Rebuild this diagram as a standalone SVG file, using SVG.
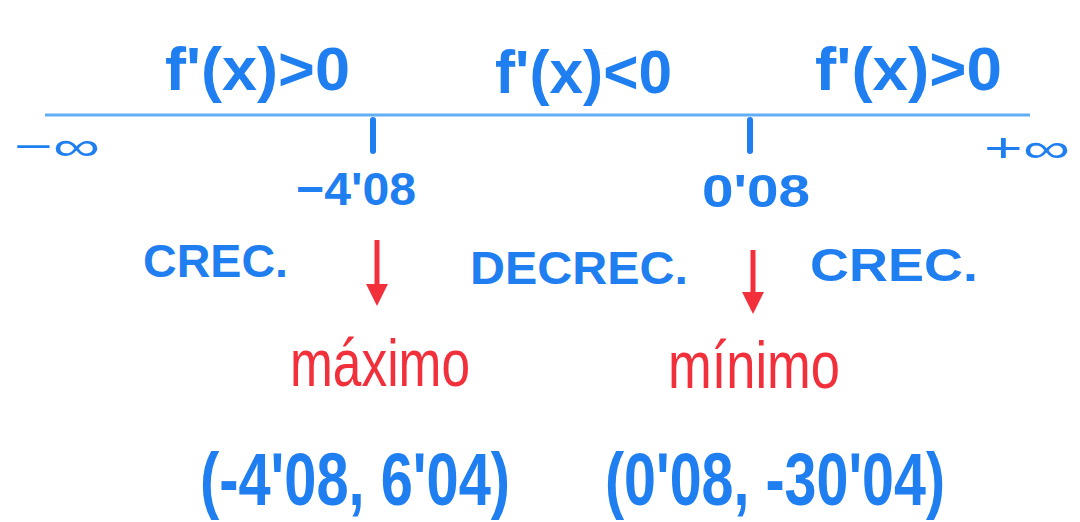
<svg xmlns="http://www.w3.org/2000/svg" width="1080" height="522" viewBox="0 0 1080 522">
<defs>
<style>
.b{fill:#1f7ef0;font-family:"Liberation Sans",Arial,sans-serif;font-weight:bold}
.r{fill:#f2303c;font-family:"Liberation Sans",Arial,sans-serif}
.ax{stroke:#62aef4;stroke-width:3;fill:none}
.tk{stroke:#1f7ef0;stroke-width:6;stroke-linecap:round}
.ar{stroke:#f2303c;stroke-width:5;fill:none}
</style>
<marker id="ah" viewBox="0 0 10 10" refX="0.5" refY="5" markerWidth="22" markerHeight="22" orient="auto" markerUnits="userSpaceOnUse">
<path d="M0,0 L10,5 L0,10 Z" fill="#f2303c"/>
</marker>
</defs>
<rect width="1080" height="522" fill="#ffffff"/>
<g id="axis">
<line class="ax" x1="45" y1="115" x2="1030" y2="115"/>
<line class="tk" x1="373" y1="120" x2="373" y2="151"/>
<line class="tk" x1="750" y1="120" x2="750" y2="151"/>
<text class="b" x="14" y="160" font-size="40" textLength="86" lengthAdjust="spacingAndGlyphs" style="font-weight:normal">−∞</text>
<text class="b" x="984" y="162" font-size="40" textLength="86" lengthAdjust="spacingAndGlyphs" style="font-weight:normal">+∞</text>
<text class="b" x="296" y="205" font-size="46" textLength="120" lengthAdjust="spacingAndGlyphs">−4'08</text>
<text class="b" x="702" y="207" font-size="46" textLength="108" lengthAdjust="spacingAndGlyphs">0'08</text>
</g>
<g id="signs">
<text class="b" x="165" y="90" font-size="62" textLength="185" lengthAdjust="spacingAndGlyphs">f'(x)&gt;0</text>
<text class="b" x="495" y="93" font-size="62" textLength="177" lengthAdjust="spacingAndGlyphs">f'(x)&lt;0</text>
<text class="b" x="815" y="90" font-size="62" textLength="187" lengthAdjust="spacingAndGlyphs">f'(x)&gt;0</text>
</g>
<g id="monotony">
<text class="b" x="143" y="277" font-size="46" textLength="145" lengthAdjust="spacingAndGlyphs">CREC.</text>
<text class="b" x="470" y="284" font-size="46" textLength="218" lengthAdjust="spacingAndGlyphs">DECREC.</text>
<text class="b" x="810" y="281" font-size="46" textLength="168" lengthAdjust="spacingAndGlyphs">CREC.</text>
</g>
<g id="connectors">
<line class="ar" x1="377" y1="240" x2="377" y2="285" marker-end="url(#ah)"/>
<line class="ar" x1="753" y1="250" x2="753" y2="293" marker-end="url(#ah)"/>
</g>
<g id="maximo">
<text class="r" x="290" y="386" font-size="66" textLength="180" lengthAdjust="spacingAndGlyphs">máximo</text>
<text class="b" x="200" y="505" font-size="74" textLength="310" lengthAdjust="spacingAndGlyphs">(-4'08, 6'04)</text>
</g>
<g id="minimo">
<text class="r" x="668" y="388" font-size="66" textLength="172" lengthAdjust="spacingAndGlyphs">mínimo</text>
<text class="b" x="605" y="505" font-size="74" textLength="340" lengthAdjust="spacingAndGlyphs">(0'08, -30'04)</text>
</g>
</svg>
